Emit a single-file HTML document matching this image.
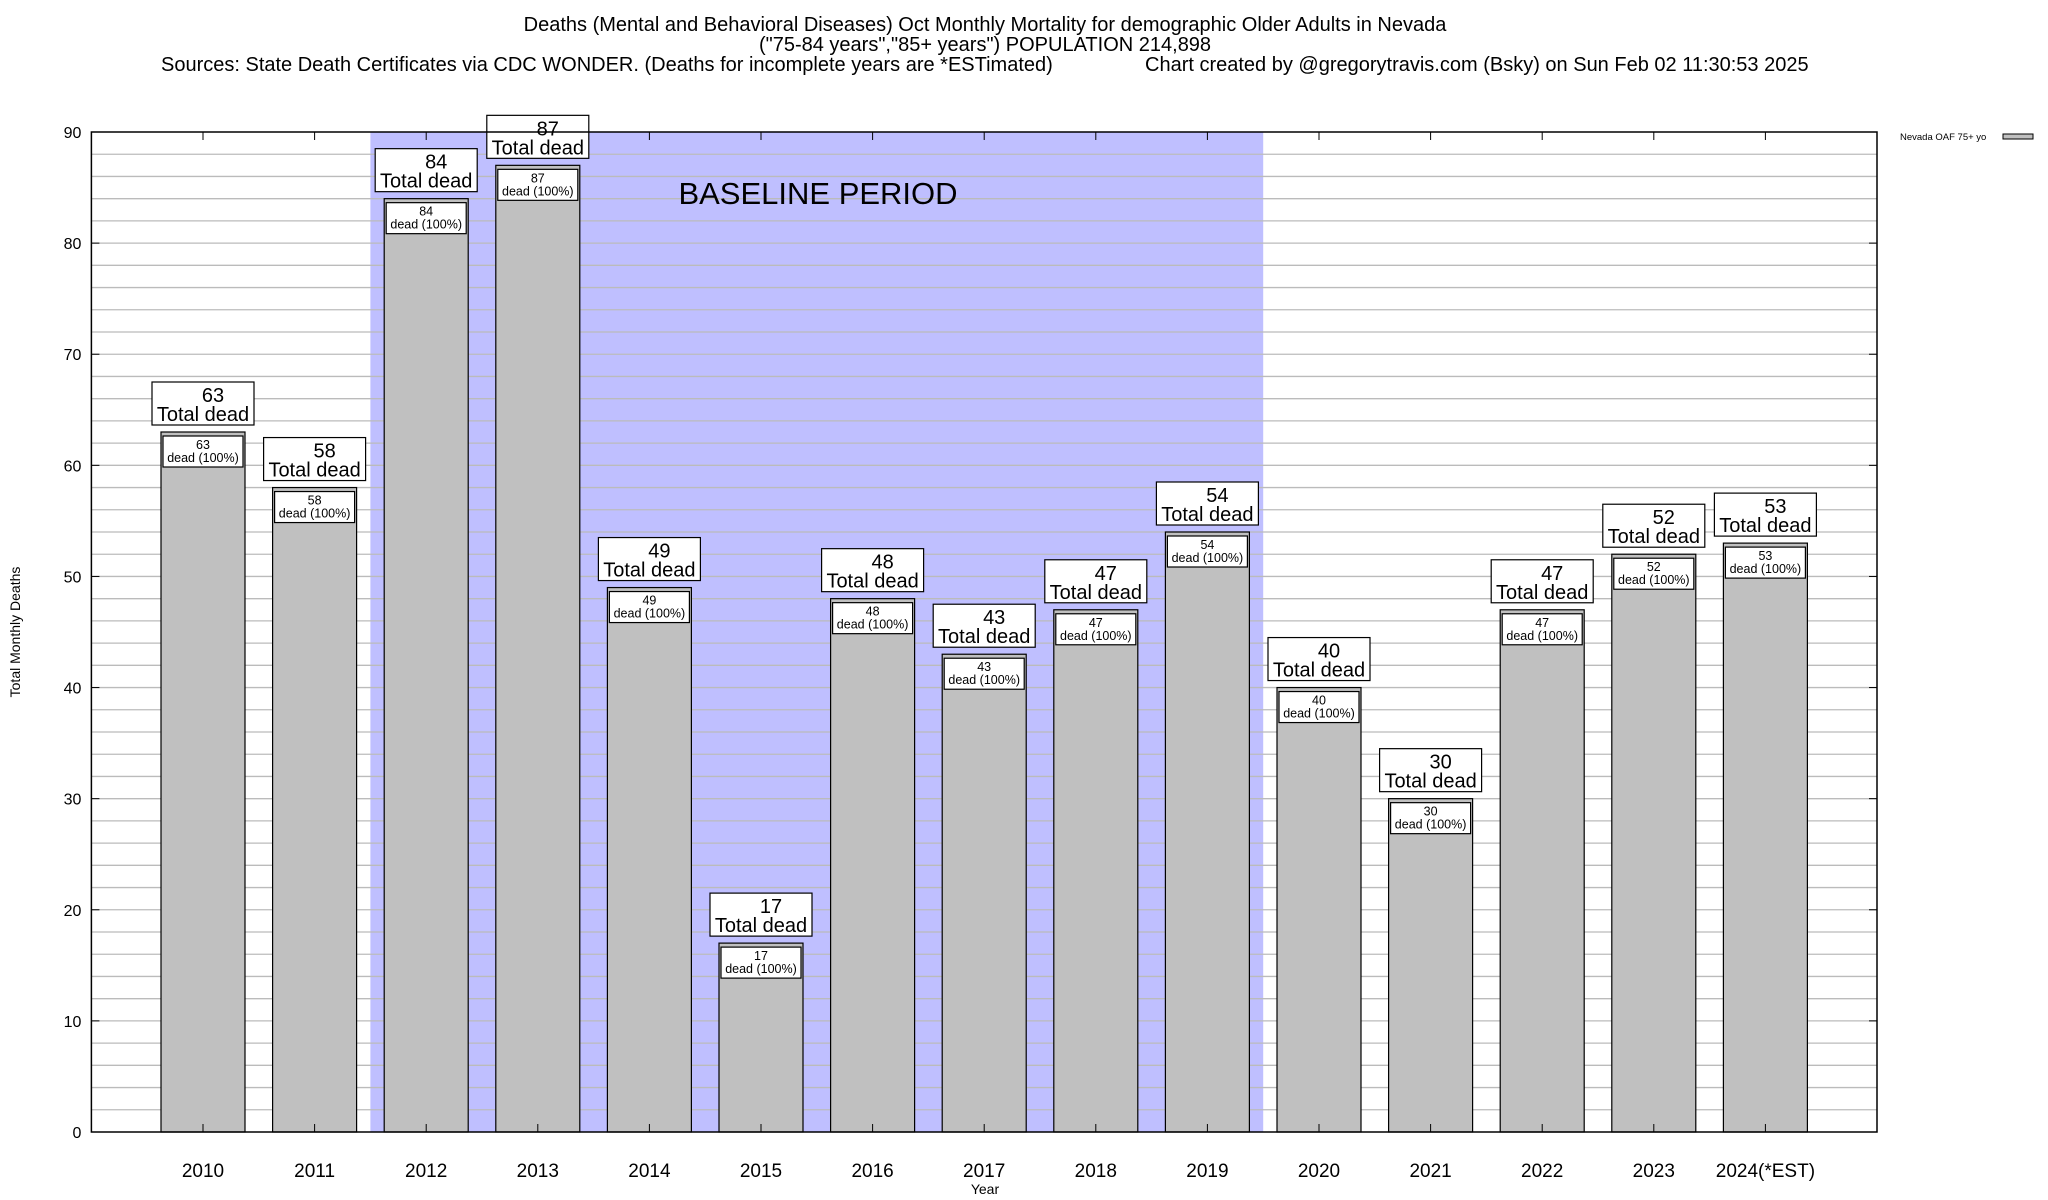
<!DOCTYPE html>
<html><head><meta charset="utf-8">
<style>
html,body{margin:0;padding:0;background:#fff;}
svg{display:block;font-family:"Liberation Sans",Arial,sans-serif;}
</style></head>
<body>
<svg id="chart" width="2048" height="1200" viewBox="0 0 2048 1200" xmlns="http://www.w3.org/2000/svg">
<g font-size="20" fill="#000">
<text x="985" y="31" text-anchor="middle">Deaths (Mental and Behavioral Diseases) Oct Monthly Mortality for demographic Older Adults in Nevada</text>
<text x="985" y="51" text-anchor="middle">("75-84 years","85+ years") POPULATION 214,898</text>
<text x="161" y="71">Sources: State Death Certificates via CDC WONDER. (Deaths for incomplete years are *ESTimated)</text>
<text x="1145" y="71">Chart created by @gregorytravis.com (Bsky) on Sun Feb 02 11:30:53 2025</text>
</g>
<g id="plot"></g>
<text x="0" y="0" font-size="14" text-anchor="middle" transform="translate(20,632) rotate(-90)">Total Monthly Deaths</text>
<text x="985" y="1194" font-size="14" text-anchor="middle">Year</text>
<g>
<text x="1900" y="140" font-size="9.5">Nevada OAF 75+ yo</text>
<rect x="2003" y="134" width="30" height="5" fill="#c0c0c0" stroke="#000" stroke-width="1"/>
</g>
</svg>
<script>
const categories = ["2010","2011","2012","2013","2014","2015","2016","2017","2018","2019","2020","2021","2022","2023","2024(*EST)"];
const values = [63,58,84,87,49,17,48,43,47,54,40,30,47,52,53];
const yTicks = [0,10,20,30,40,50,60,70,80,90];
const baselineStart = 1.5, baselineEnd = 9.5;

const NS = "http://www.w3.org/2000/svg";
const L = 91.4, R = 1877, T = 132, B = 1132;
const yMax = 90;
const step = (R - L) / 16;
const barW = 84;
function xScale(i){ return L + (i + 1) * step; }
function yScale(v){ return B - (v / yMax) * (B - T); }
const plot = document.getElementById('plot');
function mk(tag, attrs, parent){
  const e = document.createElementNS(NS, tag);
  for (const k in attrs) e.setAttribute(k, attrs[k]);
  (parent || plot).appendChild(e);
  return e;
}
const bs = mk('rect', {x: xScale(baselineStart), y: T, width: xScale(baselineEnd) - xScale(baselineStart), height: B - T, fill: '#bfbfff'});


for (let v = 2; v < yMax; v += 2) {
  const g = mk('line', {x1: L, x2: R, y1: yScale(v), y2: yScale(v), stroke: '#bbbbbb', 'stroke-width': 1.3});
  
  
}
const bt = mk('text', {x: 818, y: 204, 'font-size': 31, 'text-anchor': 'middle'});
bt.textContent = 'BASELINE PERIOD';


yTicks.forEach(t => {
  const y = yScale(t);
  const tx = mk('text', {x: L - 10, y: y + 6, 'font-size': 16, 'text-anchor': 'end'});
  tx.textContent = t;
  
  
  mk('line', {x1: L, x2: L + 8, y1: y, y2: y, stroke: '#000'});
  mk('line', {x1: R - 8, x2: R, y1: y, y2: y, stroke: '#000'});
});
categories.forEach((c, i) => {
  const cx = xScale(i), v = values[i], top = yScale(v);
  const bar = mk('rect', {x: cx - barW/2, y: top, width: barW, height: B - top, fill: '#c0c0c0', stroke: '#000', 'stroke-width': 1.2});
  
  
  mk('line', {x1: cx, x2: cx, y1: T, y2: T + 8, stroke: '#000'});
  mk('line', {x1: cx, x2: cx, y1: B - 8, y2: B, stroke: '#000'});
  const xl = mk('text', {x: cx, y: B + 45, 'font-size': 19, 'text-anchor': 'middle'});
  xl.textContent = c;
  
  
  const ib = mk('rect', {x: cx - 40, y: top + 4, width: 80, height: 31, fill: '#fff', stroke: '#000', 'stroke-width': 1.2});
  
  
  const t1 = mk('text', {x: cx, y: top + 17, 'font-size': 12.5, 'text-anchor': 'middle'});
  t1.textContent = v;
  
  
  const t2 = mk('text', {x: cx, y: top + 30, 'font-size': 12.5, 'text-anchor': 'middle'});
  t2.textContent = 'dead (100%)';
  
  
  const ob = mk('rect', {x: cx - 51, y: top - 50, width: 102, height: 43, fill: '#fff', stroke: '#000', 'stroke-width': 1.2});
  
  
  const o1 = mk('text', {x: cx + 10, y: top - 30, 'font-size': 20, 'text-anchor': 'middle'});
  o1.textContent = v;
  
  
  const o2 = mk('text', {x: cx, y: top - 11, 'font-size': 20, 'text-anchor': 'middle'});
  o2.textContent = 'Total dead';
  
  
});
const frame = mk('rect', {x: L, y: T, width: R - L, height: B - T, fill: 'none', stroke: '#000', 'stroke-width': 1.5});


</script>
</body></html>
